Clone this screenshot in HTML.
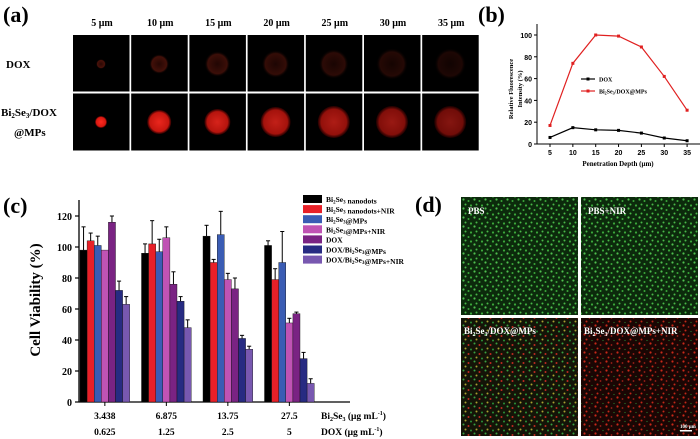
<!DOCTYPE html>
<html><head><meta charset="utf-8"><style>
body{margin:0;background:#fff}
svg{display:block;font-family:"Liberation Serif",serif;font-weight:bold}
</style></head><body>
<svg id="s" width="700" height="439" viewBox="0 0 700 439">
<defs>
<radialGradient id="rb" cx="50%" cy="50%" r="50%"><stop offset="0" stop-color="#ff2a20"/><stop offset="0.8" stop-color="#d81810"/><stop offset="1" stop-color="#500" stop-opacity="0.6"/></radialGradient>
<radialGradient id="rd" cx="50%" cy="50%" r="50%"><stop offset="0" stop-color="#2a0804"/><stop offset="0.75" stop-color="#4a120a"/><stop offset="1" stop-color="#000" stop-opacity="0"/></radialGradient>
<pattern id="pg" width="11" height="9" patternUnits="userSpaceOnUse"><rect width="11" height="9" fill="#0c2a0c"/><circle cx="1.5" cy="1.5" r="1.1" fill="#4fc04f"/><circle cx="6.5" cy="3" r="1" fill="#3aa83a"/><circle cx="3.5" cy="6.5" r="1" fill="#48b848"/><circle cx="9" cy="7.5" r="1.1" fill="#3aa83a"/></pattern>
<pattern id="pm" width="11" height="9" patternUnits="userSpaceOnUse"><rect width="11" height="9" fill="#141408"/><circle cx="1.5" cy="1.5" r="1" fill="#3aa040"/><circle cx="6.5" cy="3" r="1" fill="#c02a20"/><circle cx="3.5" cy="6.5" r="1" fill="#a8a030"/><circle cx="9" cy="7.5" r="1" fill="#2a9038"/></pattern>
<pattern id="pr" width="11" height="9" patternUnits="userSpaceOnUse"><rect width="11" height="9" fill="#1a0604"/><circle cx="1.5" cy="1.5" r="1.1" fill="#c82818"/><circle cx="6.5" cy="3" r="0.9" fill="#a02018"/><circle cx="3.5" cy="6.5" r="1" fill="#c02818"/><circle cx="9" cy="7.5" r="0.6" fill="#2a8030"/></pattern>
</defs>
<g id="pa">
<text x="3" y="22" font-size="22">(a)</text>
<text x="6" y="68" font-size="11">DOX</text>
<text x="1" y="116" font-size="11">Bi<tspan font-size="7" dy="2">2</tspan><tspan dy="-2">Se</tspan><tspan font-size="7" dy="2">3</tspan><tspan dy="-2">/DOX</tspan></text>
<text x="14" y="136" font-size="11">@MPs</text>
</g>
<g id="pb">
<text x="478" y="22" font-size="22">(b)</text>
</g>
<g id="pc">
<text x="3" y="213" font-size="22">(c)</text>
</g>
<g id="pd">
<text x="415" y="212" font-size="22">(d)</text>
<rect x="461" y="197" width="117" height="118" fill="url(#pg)"/>
<rect x="581" y="197" width="117" height="118" fill="url(#pg)"/>
<rect x="461" y="318" width="117" height="118" fill="url(#pm)"/>
<rect x="581" y="318" width="117" height="118" fill="url(#pr)"/>
<g fill="#fff" font-size="9">
<text x="468" y="214">PBS</text>
<text x="588" y="214">PBS+NIR</text>
<text x="464" y="334">Bi<tspan font-size="6" dy="2">2</tspan><tspan dy="-2">Se</tspan><tspan font-size="6" dy="2">3</tspan><tspan dy="-2">/DOX@MPs</tspan></text>
<text x="584" y="334">Bi<tspan font-size="6" dy="2">2</tspan><tspan dy="-2">Se</tspan><tspan font-size="6" dy="2">3</tspan><tspan dy="-2">/DOX@MPs+NIR</tspan></text>
<text x="680" y="428" font-size="5">100 μm</text>
</g>
<rect x="680" y="430" width="12" height="1.5" fill="#fff"/>
</g>
</svg>
<script>
const NS='http://www.w3.org/2000/svg';
function mk(p,t,a){const e=document.createElementNS(NS,t);for(const k in a)e.setAttribute(k,a[k]);p.appendChild(e);return e;}
// ---- panel a
const depthLabels=['5 μm','10 μm','15 μm','20 μm','25 μm','30 μm','35 μm'];
const doxSize=[5,10,13,14,15,16,16];
const mpSize=[6,12,13,15,16,16,16];
const pa=document.getElementById('pa');
depthLabels.forEach((l,i)=>{
  const x=73+i*58.2;
  const t=mk(pa,'text',{x:x+29,y:26,'font-size':10,'text-anchor':'middle'});t.textContent=l;
  
  
  const r1=mk(pa,'rect',{x:x,y:35,width:56.5,height:56.5,fill:'#000'});
  
  
  mk(pa,'circle',{cx:x+28,cy:64,r:doxSize[i],fill:'url(#rd)',opacity:1-i*0.1});
  const r2=mk(pa,'rect',{x:x,y:93.5,width:56.5,height:57,fill:'#000'});
  
  
  mk(pa,'circle',{cx:x+28,cy:122,r:mpSize[i],fill:'url(#rb)',opacity:1-i*0.08});
});
// ---- panel b
const bDepth=[5,10,15,20,25,30,35];
const bDox=[6,15,13,12.5,10,5.5,3];
const bMps=[17,74,100,99,89,62,31];
const bYTicks=[0,20,40,60,80,100];
const pb=document.getElementById('pb');
const bx=v=>550+(v-5)*4.57, by=v=>144-v*1.09;
mk(pb,'line',{x1:537,y1:24,x2:537,y2:144,stroke:'#000','stroke-width':1});
mk(pb,'line',{x1:537,y1:144,x2:700,y2:144,stroke:'#000','stroke-width':1});
bYTicks.forEach(v=>{mk(pb,'line',{x1:534,y1:by(v),x2:537,y2:by(v),stroke:'#000'});
 const t=mk(pb,'text',{x:532,y:by(v)+3,'font-size':7,'text-anchor':'end','font-family':'Liberation Sans'});t.textContent=v;
 });
bDepth.forEach(v=>{mk(pb,'line',{x1:bx(v),y1:144,x2:bx(v),y2:147,stroke:'#000'});
 const t=mk(pb,'text',{x:bx(v),y:155,'font-size':7,'text-anchor':'middle','font-family':'Liberation Sans'});t.textContent=v;
 });
let t=mk(pb,'text',{x:618,y:166,'font-size':7,'text-anchor':'middle'});t.textContent='Penetration Depth (μm)';

t=mk(pb,'text',{x:0,y:0,'font-size':6.5,'text-anchor':'middle',transform:'translate(513,89) rotate(-90)'});t.textContent='Relative Fluorescence';

t=mk(pb,'text',{x:0,y:0,'font-size':6.5,'text-anchor':'middle',transform:'translate(522,89) rotate(-90)'});t.textContent='Intensity (%)';
[[bDox,'#000','dox'],[bMps,'#e02020','mps']].forEach(([d,c,n])=>{
 const l=mk(pb,'polyline',{points:d.map((v,i)=>bx(bDepth[i])+','+by(v)).join(' '),fill:'none',stroke:c,'stroke-width':1.2});
 
 d.forEach((v,i)=>{const p=mk(pb,'rect',{x:bx(bDepth[i])-1.5,y:by(v)-1.5,width:3,height:3,fill:c});
  });
});
mk(pb,'line',{x1:581,y1:79,x2:595,y2:79,stroke:'#000','stroke-width':1.2});mk(pb,'rect',{x:586.5,y:77.5,width:3,height:3,fill:'#000'});
t=mk(pb,'text',{x:599,y:81.5,'font-size':6});t.textContent='DOX';
mk(pb,'line',{x1:581,y1:91,x2:595,y2:91,stroke:'#e02020','stroke-width':1.2});mk(pb,'rect',{x:586.5,y:89.5,width:3,height:3,fill:'#e02020'});
t=mk(pb,'text',{x:599,y:93.5,'font-size':6});t.innerHTML='Bi<tspan font-size="4" dy="1">2</tspan><tspan dy="-1">Se</tspan><tspan font-size="4" dy="1">3</tspan><tspan dy="-1">/DOX@MPs</tspan>';

// ---- panel c
const cGroupsBi=['3.438','6.875','13.75','27.5'];
const cGroupsDox=['0.625','1.25','2.5','5'];
const cSeriesNames=['Bi2Se3 nanodots','Bi2Se3 nanodots+NIR','Bi2Se3@MPs','Bi2Se3@MPs+NIR','DOX','DOX/Bi2Se3@MPs','DOX/Bi2Se3@MPs+NIR'];
const cColors=['#000','#e82028','#3a5cb4','#c053b4','#7a2383','#272b82','#7858b0'];
const cValues=[[98,96,107,101],[104,102,90,79],[101,97,108,90],[98,106,79,51],[116,76,73,57],[72,65,41,28],[63,48,34,12]];
const cErrors=[[15,6,7,3],[5,15,2,7],[6,8,15,20],[0,7,4,3],[4,8,7,1],[6,3,2,4],[5,5,2,3]];
const cYTicks=[0,20,40,60,80,100,120];
const pc=document.getElementById('pc');
const cy=v=>402-v*1.55, cx=(g,s)=>80+g*61.5+s*7.1;
mk(pc,'line',{x1:79,y1:200,x2:79,y2:402,stroke:'#000','stroke-width':1.3});
mk(pc,'line',{x1:79,y1:402,x2:350,y2:402,stroke:'#000','stroke-width':1.3});
cYTicks.forEach(v=>{mk(pc,'line',{x1:75,y1:cy(v),x2:79,y2:cy(v),stroke:'#000','stroke-width':1.2});
 const t=mk(pc,'text',{x:72,y:cy(v)+4,'font-size':10,'text-anchor':'end'});t.textContent=v;
 });
t=mk(pc,'text',{x:0,y:0,'font-size':15,'text-anchor':'middle',transform:'translate(40,300) rotate(-90)'});t.textContent='Cell Viability (%)';

cValues.forEach((ser,s)=>ser.forEach((v,g)=>{
 const x=cx(g,s);
 const b=mk(pc,'rect',{x:x,y:cy(v),width:7.1,height:v*1.55,fill:cColors[s],stroke:'#111','stroke-width':0.4});
 
 const e=cErrors[s][g];
 if(e>0){mk(pc,'line',{x1:x+3.55,y1:cy(v),x2:x+3.55,y2:cy(v+e),stroke:'#000','stroke-width':1});
  mk(pc,'line',{x1:x+1.5,y1:cy(v+e),x2:x+5.6,y2:cy(v+e),stroke:'#000','stroke-width':1});}
}));
cGroupsBi.forEach((l,g)=>{const xm=cx(g,3.5);
 mk(pc,'line',{x1:xm,y1:402,x2:xm,y2:406,stroke:'#000'});
 let t=mk(pc,'text',{x:xm,y:419,'font-size':9.5,'text-anchor':'middle'});t.textContent=l;
 
 t=mk(pc,'text',{x:xm,y:435,'font-size':9.5,'text-anchor':'middle'});t.textContent=cGroupsDox[g];
 });
t=mk(pc,'text',{x:321,y:419,'font-size':9.5});t.innerHTML='Bi<tspan font-size="6" dy="2">2</tspan><tspan dy="-2">Se</tspan><tspan font-size="6" dy="2">3</tspan><tspan dy="-2"> (μg mL</tspan><tspan font-size="6" dy="-4">-1</tspan><tspan dy="4">)</tspan>';

t=mk(pc,'text',{x:321,y:435,'font-size':9.5});t.innerHTML='DOX  (μg mL<tspan font-size="6" dy="-4">-1</tspan><tspan dy="4">)</tspan>';

cSeriesNames.forEach((n,s)=>{const y=195+s*10.1;
 const r=mk(pc,'rect',{x:303,y:y,width:19,height:8,fill:cColors[s]});
 
 const t=mk(pc,'text',{x:326,y:y+7,'font-size':7.5});
 t.innerHTML=n.replace(/Bi2Se3/,'Bi<tspan font-size="5" dy="1.5">2</tspan><tspan dy="-1.5">Se</tspan><tspan font-size="5" dy="1.5">3</tspan><tspan dy="-1.5"></tspan>');
 
});
</script>
</body></html>
